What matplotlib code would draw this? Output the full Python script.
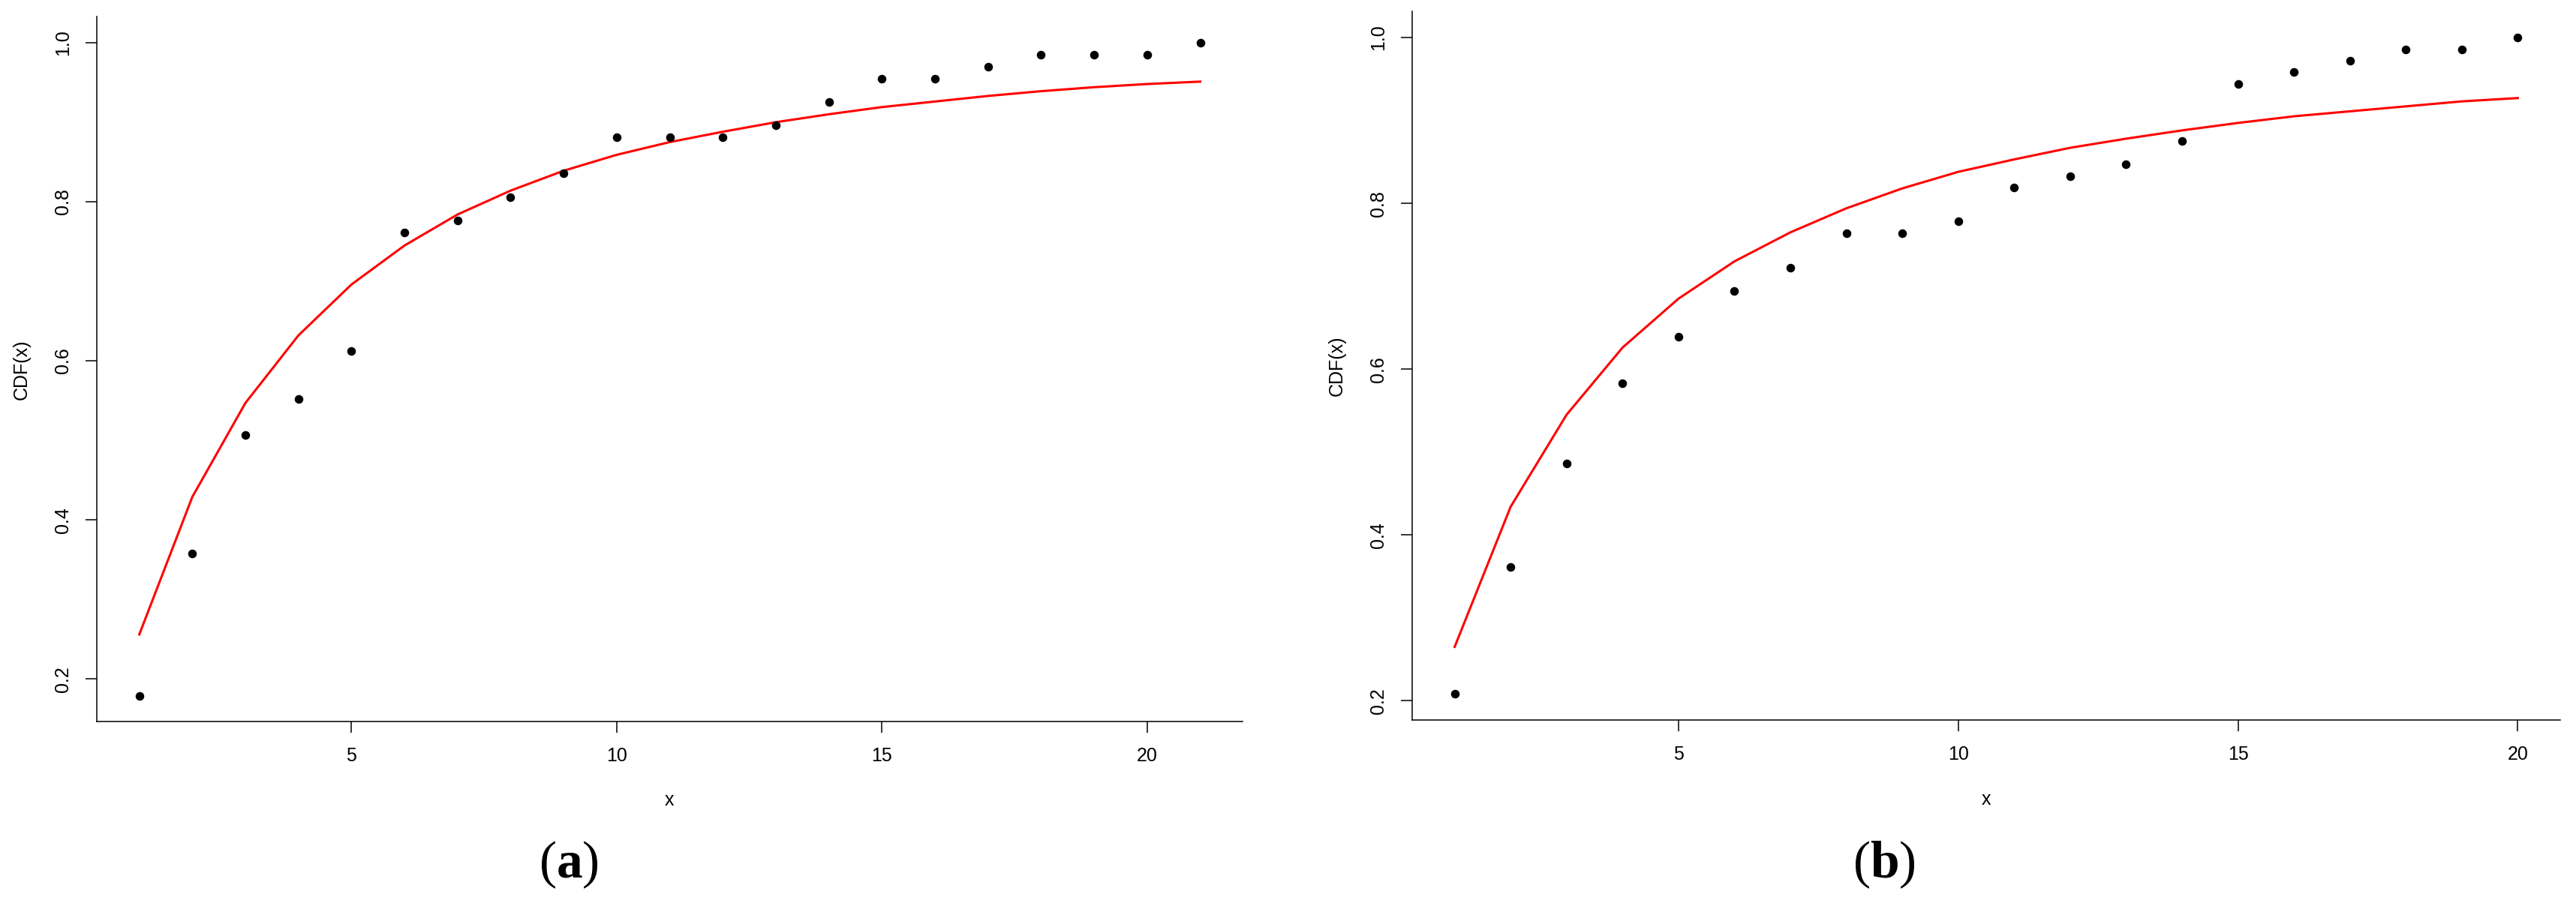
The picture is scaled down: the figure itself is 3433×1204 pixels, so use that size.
import matplotlib
matplotlib.use('Agg')
import matplotlib.pyplot as plt

# panel (a)
X_A = list(range(1, 22))
ECDF_A = [0.179, 0.358, 0.507, 0.552, 0.612, 0.761, 0.776, 0.806, 0.836, 0.881, 0.881,
          0.881, 0.896, 0.925, 0.955, 0.955, 0.970, 0.985, 0.985, 0.985, 1.000]
FIT_A = [0.256, 0.429, 0.547, 0.632, 0.696, 0.745, 0.784, 0.814, 0.839, 0.859, 0.875,
         0.888, 0.900, 0.910, 0.919, 0.926, 0.933, 0.939, 0.944, 0.948, 0.951]

# panel (b)
X_B = list(range(1, 21))
ECDF_B = [0.208, 0.361, 0.486, 0.583, 0.639, 0.694, 0.722, 0.764, 0.764, 0.778,
          0.819, 0.833, 0.847, 0.875, 0.944, 0.958, 0.972, 0.986, 0.986, 1.000]
FIT_B = [0.265, 0.434, 0.545, 0.626, 0.685, 0.730, 0.765, 0.794, 0.818, 0.838,
         0.853, 0.867, 0.878, 0.888, 0.897, 0.905, 0.911, 0.917, 0.923, 0.927]

X_TICKS = [5, 10, 15, 20]
Y_TICKS = [0.2, 0.4, 0.6, 0.8, 1.0]
PANEL_LABELS = ['a', 'b']

plt.rcParams['font.family'] = ['Liberation Sans', 'DejaVu Sans']
plt.rcParams['mathtext.fontset'] = 'custom'
plt.rcParams['mathtext.rm'] = 'Liberation Serif'
plt.rcParams['mathtext.bf'] = 'Liberation Serif:bold'

TICK_SIZE = 18


def r_range(vals):
  # R pads the data range by 4% on each side
  lo, hi = min(vals), max(vals)
  pad = (hi - lo) * 0.04
  return lo - pad, hi + pad


def cdf_panel(ax, x, ecdf, fit):
  ax.plot(x, fit, '-', color='red', lw=2.2, zorder=2)
  ax.plot(x, ecdf, 'o', color='black', ms=8.3, mec='none', zorder=3)

  ax.set_xlim(*r_range(x))
  ax.set_ylim(*r_range(ecdf))
  ax.set_xticks(X_TICKS)
  ax.set_yticks(Y_TICKS)
  ax.set_yticklabels([f'{v:.1f}' for v in Y_TICKS], rotation=90, va='center')

  ax.spines['top'].set_visible(False)
  ax.spines['right'].set_visible(False)
  for s in ('left', 'bottom'):
    ax.spines[s].set_linewidth(1.1)
  ax.tick_params(length=11, width=1.1, pad=13, labelsize=TICK_SIZE)


def main():
  fig = plt.figure(figsize=(34.33, 12.04), dpi=100)

  ax_a = fig.add_axes([0.0376, 0.2006, 0.4448, 0.7811])
  ax_b = fig.add_axes([0.5482, 0.2023, 0.4457, 0.7852])

  cdf_panel(ax_a, X_A, ECDF_A, FIT_A)
  cdf_panel(ax_b, X_B, ECDF_B, FIT_B)

  fig.text(0.0085, 0.5905, 'CDF(x)', rotation=90, ha='center', va='center', fontsize=TICK_SIZE)
  fig.text(0.519, 0.5947, 'CDF(x)', rotation=90, ha='center', va='center', fontsize=TICK_SIZE)
  fig.text(0.2598, 0.1138, 'x', ha='center', va='center', fontsize=TICK_SIZE)
  fig.text(0.771, 0.1146, 'x', ha='center', va='center', fontsize=TICK_SIZE)

  fig.text(0.2208, 0.0425, r'($\mathbf{' + PANEL_LABELS[0] + r'}$)', ha='center', va='center',
           fontsize=50, family='Liberation Serif')
  fig.text(0.7314, 0.0425, r'($\mathbf{' + PANEL_LABELS[1] + r'}$)', ha='center', va='center',
           fontsize=50, family='Liberation Serif')

  fig.savefig('out.png', dpi=100)


if __name__ == "__main__":
  main()
